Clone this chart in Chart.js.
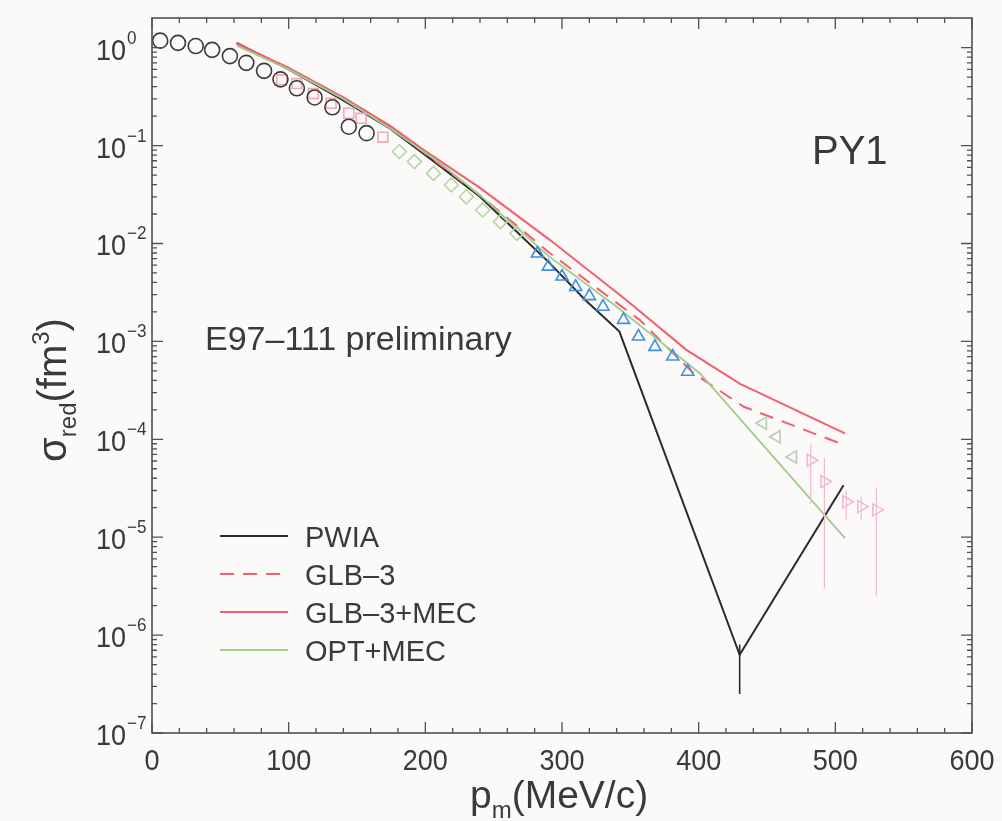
<!DOCTYPE html>
<html>
<head>
<meta charset="utf-8">
<script src="https://cdn.jsdelivr.net/npm/chart.js@4.4.1/dist/chart.umd.min.js"></script>
<style>
  html, body { margin: 0; padding: 0; background: #fcf9f9; }
  #wrap { width: 1002px; height: 821px; position: relative; }
</style>
</head>
<body>
<div id="wrap"><canvas id="c"></canvas></div>
<script>
// ---- axis ticks ----
const xTickValues = [0, 100, 200, 300, 400, 500, 600];
const xTickLabels = ['0', '100', '200', '300', '400', '500', '600'];
const yTickExponents = [0, -1, -2, -3, -4, -5, -6, -7];

// ---- E97-111 preliminary data: missing momentum p_m (MeV/c) and sigma_red (fm^3) ----
const circP = [6, 19, 32, 44, 57, 69, 82, 94, 106, 119, 132, 144, 157];
const circS = [1.18, 1.12, 1.04, 0.95, 0.82, 0.70, 0.58, 0.475, 0.385, 0.31, 0.246, 0.156, 0.134];

const sqP = [95, 106, 118, 131, 144, 153, 169];
const sqS = [0.47, 0.43, 0.34, 0.27, 0.214, 0.19, 0.122];

const diaP = [181, 192, 206, 219, 230, 242, 255, 267];
const diaS = [0.087, 0.0686, 0.052, 0.0396, 0.030, 0.022, 0.0167, 0.0127];

const triUpP = [282, 290, 300, 310, 320, 330, 345, 356, 368, 381, 392];
const triUpS = [7.9e-3, 5.8e-3, 4.6e-3, 3.6e-3, 2.9e-3, 2.26e-3, 1.66e-3, 1.12e-3, 8.8e-4, 7.0e-4, 4.9e-4];

const triLeftP = [447, 457, 469];
const triLeftS = [1.46e-4, 1.06e-4, 6.6e-5];

const triRightP = [482, 492, 508, 519, 530];
const triRightS = [6.1e-5, 3.7e-5, 2.3e-5, 2.05e-5, 1.9e-5];
const triRightLo = [2.2e-5, 3.0e-6, 1.5e-5, 1.5e-5, 2.5e-6];
const triRightHi = [9.0e-5, 6.5e-5, 3.0e-5, 2.6e-5, 3.2e-5];

// ---- calculations ----
const pwiaP = [62, 100, 140, 174, 205, 240, 265, 291, 317, 342, 430, 506];
const pwiaS = [1.12, 0.6, 0.29, 0.15, 0.071, 0.030, 0.014, 0.0063, 0.00265, 0.00126, 6.3e-7, 3.4e-5];
const pwiaErrP = [430];
const pwiaErrLo = [2.5e-7];
const pwiaErrHi = [8.0e-7];

const glbP = [62, 100, 140, 174, 199, 240, 291, 357, 396, 433, 507];
const glbS = [1.1, 0.62, 0.31, 0.155, 0.085, 0.031, 8.0e-3, 1.65e-3, 4.75e-4, 2.15e-4, 8.7e-5];

const glbMecP = [62, 100, 140, 174, 199, 240, 291, 347, 391, 430, 507];
const glbMecS = [1.1, 0.62, 0.31, 0.16, 0.090, 0.037, 0.0109, 2.65e-3, 8.2e-4, 3.7e-4, 1.15e-4];

const optMecP = [62, 100, 140, 174, 211, 240, 291, 340, 401, 507];
const optMecS = [1.05, 0.6, 0.3, 0.15, 0.066, 0.031, 7.3e-3, 2.26e-3, 4.7e-4, 9.8e-6];

const pts = (xs, ys) => xs.map((x, i) => ({ x: x, y: ys[i] }));

const FONT = "'Liberation Sans', Arial, Helvetica, sans-serif";
const INK = '#3a3a3a';

function markerSet(label, xs, ys, color, style, radius, rotation) {
  return {
    label: label, data: pts(xs, ys), showLine: false,
    pointStyle: style, pointRadius: radius, pointRotation: rotation || 0,
    pointBorderColor: color, pointBackgroundColor: 'rgba(0,0,0,0)',
    pointBorderWidth: 1.6, borderColor: color, backgroundColor: 'rgba(0,0,0,0)'
  };
}
function curveSet(label, xs, ys, color, width, dash) {
  return {
    label: label, data: pts(xs, ys), showLine: true,
    borderColor: color, borderWidth: width, borderDash: dash || [],
    pointRadius: 0, tension: 0, fill: false, backgroundColor: color
  };
}

const datasets = [
  markerSet('circles', circP, circS, '#3c3c3c', 'circle', 7.5),
  markerSet('squares', sqP, sqS, '#f2a7b6', 'rect', 7),
  markerSet('diamonds', diaP, diaS, '#b3d9a3', 'rectRot', 7),
  markerSet('triangles', triUpP, triUpS, '#3f8fe0', 'triangle', 7),
  markerSet('left', triLeftP, triLeftS, '#b9cfb2', 'triangle', 7, -90),
  markerSet('right', triRightP, triRightS, '#f0bccd', 'triangle', 7, 90),
  curveSet('OPT+MEC', optMecP, optMecS, '#9fcd8d', 1.8),
  curveSet('GLB\u20133', glbP, glbS, '#f2606e', 2, [14, 9]),
  curveSet('GLB\u20133+MEC', glbMecP, glbMecS, '#f2606e', 2),
  curveSet('PWIA', pwiaP, pwiaS, '#2b2b2b', 2)
];
const legendOrder = ['PWIA', 'GLB\u20133', 'GLB\u20133+MEC', 'OPT+MEC'];

// text drawn slightly condensed, like the plotting package's axis font
function narrowText(ctx, str, x, y, size, align, squeeze) {
  ctx.save();
  ctx.font = size + 'px ' + FONT;
  const w = ctx.measureText(str).width * squeeze;
  let left = x;
  if (align === 'center') left = x - w / 2;
  else if (align === 'right') left = x - w;
  ctx.translate(left, y);
  ctx.scale(squeeze, 1);
  ctx.textAlign = 'left';
  ctx.fillText(str, 0, 0);
  ctx.restore();
  return w;
}

const decor = {
  id: 'decor',
  beforeDraw(chart) {
    const ctx = chart.ctx;
    ctx.save();
    ctx.fillStyle = '#fcf9f9';
    ctx.fillRect(0, 0, chart.width, chart.height);
    ctx.restore();
  },
  afterDatasetsDraw(chart) {
    const ctx = chart.ctx, xs = chart.scales.x, ys = chart.scales.y;
    ctx.save();
    ctx.lineWidth = 1.2;
    ctx.strokeStyle = '#f0bccd';
    triRightP.forEach((p, i) => {
      const x = xs.getPixelForValue(p);
      ctx.beginPath();
      ctx.moveTo(x, ys.getPixelForValue(triRightLo[i]));
      ctx.lineTo(x, ys.getPixelForValue(triRightHi[i]));
      ctx.stroke();
    });
    ctx.strokeStyle = '#2b2b2b';
    ctx.lineWidth = 1.6;
    pwiaErrP.forEach((p, i) => {
      const x = xs.getPixelForValue(p);
      ctx.beginPath();
      ctx.moveTo(x, ys.getPixelForValue(pwiaErrLo[i]));
      ctx.lineTo(x, ys.getPixelForValue(pwiaErrHi[i]));
      ctx.stroke();
    });
    ctx.restore();
  },
  afterDraw(chart) {
    const ctx = chart.ctx, a = chart.chartArea, xs = chart.scales.x, ys = chart.scales.y;
    ctx.save();
    // frame
    ctx.strokeStyle = '#505050';
    ctx.lineWidth = 1.6;
    ctx.strokeRect(a.left, a.top, a.right - a.left, a.bottom - a.top);

    // inward ticks on all four sides
    ctx.lineWidth = 1.3;
    ctx.beginPath();
    for (let v = 0; v <= 600; v += 20) {
      const x = xs.getPixelForValue(v);
      const len = v % 100 === 0 ? 11 : 5;
      ctx.moveTo(x, a.bottom); ctx.lineTo(x, a.bottom - len);
      ctx.moveTo(x, a.top); ctx.lineTo(x, a.top + len);
    }
    for (let e = -7; e <= 0; e++) {
      for (let k = 1; k <= 9; k++) {
        const v = k * Math.pow(10, e);
        if (v > ys.max * 0.98) continue;
        const y = ys.getPixelForValue(v);
        const len = k === 1 ? 11 : 5;
        ctx.moveTo(a.left, y); ctx.lineTo(a.left + len, y);
        ctx.moveTo(a.right, y); ctx.lineTo(a.right - len, y);
      }
    }
    ctx.stroke();

    ctx.fillStyle = INK;
    ctx.textBaseline = 'alphabetic';
    // x tick labels
    xTickValues.forEach((v, i) => {
      narrowText(ctx, xTickLabels[i], xs.getPixelForValue(v), a.bottom + 37, 30, 'center', 0.9);
    });

    // y tick labels 10^n
    yTickExponents.forEach(e => {
      const y = ys.getPixelForValue(Math.pow(10, e));
      const w = narrowText(ctx, '10', 96, y + 12, 30, 'left', 0.9);
      narrowText(ctx, e === 0 ? '0' : '\u2212' + Math.abs(e), 96 + w + 1, y - 4, 18, 'left', 0.95);
    });

    // x axis title p_m(MeV/c)
    ctx.textAlign = 'left';
    let x0 = 470;
    const yb = 808;
    ctx.font = '39px ' + FONT;
    ctx.fillText('p', x0, yb);
    x0 += ctx.measureText('p').width;
    ctx.font = '24px ' + FONT;
    ctx.fillText('m', x0, yb + 10);
    x0 += ctx.measureText('m').width;
    ctx.font = '39px ' + FONT;
    ctx.fillText('(MeV/c)', x0, yb);

    // y axis title sigma_red(fm^3), rotated
    ctx.save();
    ctx.translate(66, 390);
    ctx.rotate(-Math.PI / 2);
    const parts = [['\u03c3', 40, 0], ['red', 24, 10], ['(fm', 40, 0], ['3', 24, -17], [')', 40, 0]];
    let tw = 0;
    parts.forEach(pt => { ctx.font = pt[1] + 'px ' + FONT; tw += ctx.measureText(pt[0]).width; });
    let cx = -tw / 2;
    parts.forEach(pt => {
      ctx.font = pt[1] + 'px ' + FONT;
      ctx.fillText(pt[0], cx, pt[2]);
      cx += ctx.measureText(pt[0]).width;
    });
    ctx.restore();

    // annotations
    ctx.font = '34px ' + FONT;
    ctx.fillText('E97\u2013111 preliminary', 205, 350);
    ctx.font = '40px ' + FONT;
    ctx.fillText('PY1', 812, 164);

    // legend for the calculations
    const rows = [536, 574, 612, 650];
    legendOrder.forEach((name, i) => {
      const ds = chart.data.datasets.find(d => d.label === name);
      const y = rows[i];
      ctx.save();
      ctx.strokeStyle = ds.borderColor;
      ctx.lineWidth = ds.borderWidth;
      ctx.setLineDash(ds.borderDash || []);
      ctx.beginPath();
      ctx.moveTo(220, y); ctx.lineTo(288, y);
      ctx.stroke();
      ctx.restore();
      ctx.font = '29px ' + FONT;
      ctx.fillStyle = INK;
      ctx.fillText(name, 305, y + 11);
    });
    ctx.restore();
  }
};

new Chart(document.getElementById('c'), {
  type: 'scatter',
  data: { datasets: datasets },
  options: {
    responsive: true,
    maintainAspectRatio: false,
    animation: false,
    devicePixelRatio: 1,
    layout: { padding: { left: 152, top: 18, right: 30, bottom: 88 } },
    plugins: { legend: { display: false }, tooltip: { enabled: false } },
    scales: {
      x: { type: 'linear', min: 0, max: 600, display: false },
      y: { type: 'logarithmic', min: 1e-7, max: 2.01, display: false }
    }
  },
  plugins: [decor]
});
</script>
</body>
</html>
